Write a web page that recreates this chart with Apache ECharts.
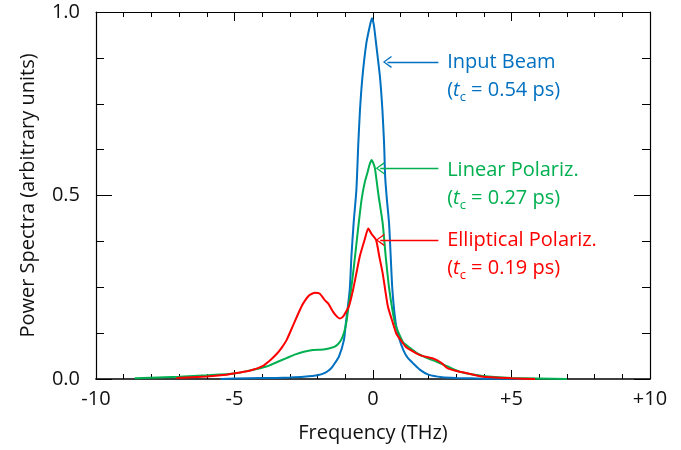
<!DOCTYPE html>
<html>
<head>
<meta charset="utf-8">
<script src="https://cdn.jsdelivr.net/npm/echarts@6/dist/echarts.min.js"></script>
<style>
html,body{margin:0;padding:0;background:#fff;}
#c{width:681px;height:450px;}
</style>
</head>
<body>
<div id="c"></div>
<script>
// ---- Data (frequency in THz, power spectra in arbitrary units) ----
const blueFreq = [-5.5,-4.5,-3.5,-3.0,-2.5,-2.0,-1.7,-1.5,-1.38,-1.23,-1.05,-0.98,-0.84,-0.78,-0.70,-0.60,-0.53,-0.47,-0.38,-0.24,-0.12,-0.04,0.03,0.11,0.25,0.34,0.40,0.44,0.50,0.58,0.64,0.70,0.82,0.95,1.1,1.25,1.43,1.7,2.0,2.5,3.0,4.0,5.5];
const bluePower = [0.0,0.002,0.003,0.004,0.006,0.010,0.018,0.030,0.043,0.061,0.106,0.152,0.243,0.333,0.424,0.515,0.642,0.733,0.824,0.915,0.960,0.983,0.965,0.915,0.824,0.733,0.642,0.55,0.49,0.424,0.333,0.243,0.152,0.110,0.078,0.058,0.044,0.025,0.012,0.005,0.003,0.001,0.0];

const greenFreq = [-8.6,-7.0,-6.0,-5.0,-4.4,-3.84,-3.5,-3.12,-2.8,-2.5,-2.17,-1.9,-1.68,-1.5,-1.38,-1.25,-1.14,-1.04,-0.96,-0.88,-0.78,-0.65,-0.53,-0.41,-0.3,-0.2,-0.12,-0.05,0.0,0.07,0.2,0.35,0.46,0.59,0.79,0.9,1.09,1.33,1.6,1.93,2.3,2.7,3.13,3.97,5.0,7.0];
const greenPower = [0.002,0.006,0.010,0.015,0.024,0.034,0.045,0.057,0.067,0.074,0.079,0.080,0.082,0.085,0.088,0.096,0.108,0.128,0.155,0.200,0.250,0.333,0.415,0.490,0.535,0.562,0.585,0.597,0.590,0.574,0.500,0.424,0.333,0.243,0.152,0.130,0.100,0.085,0.070,0.058,0.047,0.034,0.020,0.008,0.003,0.0];

const redFreq = [-7.1,-6.0,-5.4,-4.8,-4.4,-3.97,-3.7,-3.48,-3.3,-3.12,-2.88,-2.64,-2.52,-2.3,-2.1,-1.93,-1.74,-1.62,-1.44,-1.3,-1.2,-1.08,-0.96,-0.86,-0.72,-0.6,-0.48,-0.3,-0.17,-0.05,0.11,0.23,0.35,0.44,0.54,0.72,0.84,1.0,1.18,1.33,1.69,2.17,2.45,2.7,3.13,3.97,5.0,5.85];
const redPower = [0.003,0.007,0.011,0.018,0.024,0.036,0.052,0.068,0.085,0.106,0.147,0.188,0.206,0.228,0.235,0.233,0.215,0.206,0.183,0.170,0.165,0.170,0.185,0.200,0.243,0.288,0.333,0.380,0.410,0.395,0.379,0.333,0.288,0.243,0.197,0.152,0.124,0.106,0.088,0.080,0.065,0.056,0.045,0.029,0.020,0.006,0.002,0.0];

const seriesNames = ['Input Beam','Linear Polariz.','Elliptical Polariz.'];
const coherenceTimes = ['0.54','0.27','0.19'];
const xTickValues = [-10,-5,0,5,10];
const yTickValues = [0.0,0.5,1.0];
// annotation anchors (data coordinates): arrow start, arrow tip, label anchor
const arrowStart = [[2.36,0.864],[2.36,0.574],[2.36,0.379]];
const arrowTip = [[0.52,0.864],[0.26,0.574],[0.26,0.379]];
const labelAnchor = [[2.66,0.826],[2.66,0.531],[2.66,0.341]];

const colors = ['#0070C0','#00B050','#FF0000'];
const FONT = 'Open Sans';

function pairs(f,p){return f.map((x,i)=>[x,p[i]]);}
const dataSets = [pairs(blueFreq,bluePower), pairs(greenFreq,greenPower), pairs(redFreq,redPower)];

const arrowPath = 'path://M5,0 L10,7 L9.1,7.7 L5,1.7 L0.9,7.7 L0,7 Z';

function makeSeries(i){
  const col = colors[i];
  return {
    name: seriesNames[i],
    type: 'line',
    data: dataSets[i],
    showSymbol: false,
    symbol: 'none',
    smooth: 0.2,
    lineStyle: {color: col, width: 2},
    z: i===0?3:(i===1?4:5),
    silent: true,
    markLine: {
      silent: true,
      animation: false,
      symbol: ['none', arrowPath],
      symbolSize: [12, 9],
      label: {show: false},
      lineStyle: {color: col, width: 1.3, type: 'solid'},
      emphasis: {disabled: true},
      data: [[{coord: arrowStart[i]}, {coord: arrowTip[i]}]]
    },
    markPoint: {
      silent: true,
      animation: false,
      symbol: 'circle',
      symbolSize: 1,
      itemStyle: {color: 'rgba(0,0,0,0)'},
      label: {
        show: true,
        position: 'right',
        distance: 0,
        color: col,
        formatter: '{a|' + seriesNames[i] + '}\n{a|(}{i|t}{s|c}{a| = ' + coherenceTimes[i] + ' ps)}',
        rich: {
          a: {fontFamily: FONT, fontSize: 20, lineHeight: 28, color: col},
          i: {fontFamily: FONT, fontSize: 20, lineHeight: 28, fontStyle: 'italic', color: col},
          s: {fontFamily: FONT, fontSize: 13, lineHeight: 14, verticalAlign: 'bottom', color: col}
        }
      },
      data: [{coord: labelAnchor[i]}]
    }
  };
}

const chart = echarts.init(document.getElementById('c'), null, {renderer: 'canvas'});
const axisTextStyle = {fontFamily: FONT, fontSize: 20, color: '#111'};
chart.setOption({
  animation: false,
  backgroundColor: '#ffffff',
  grid: {left: 96, right: 31, top: 12, bottom: 71, containLabel: false},
  xAxis: [{
    type: 'value', min: -10, max: 10, interval: 5, position: 'bottom',
    name: 'Frequency (THz)', nameLocation: 'middle', nameGap: 44,
    nameTextStyle: {fontFamily: FONT, fontSize: 20, color: '#111'},
    axisLine: {show: true, onZero: false, lineStyle: {color: '#404040', width: 2}},
    axisTick: {show: true, inside: true, length: 9, lineStyle: {color: '#000', width: 1}},
    minorTick: {show: true, splitNumber: 5, length: 5, lineStyle: {color: '#000', width: 1}},
    splitLine: {show: false},
    axisLabel: Object.assign({margin: 10, formatter: v => xTickValues.includes(v) ? (v>0 ? '+'+v : String(v)) : ''}, axisTextStyle)
  },{
    type: 'value', min: -10, max: 10, interval: 5, position: 'top',
    axisLine: {show: true, onZero: false, lineStyle: {color: '#000', width: 1}},
    axisTick: {show: true, inside: true, length: 9, lineStyle: {color: '#000', width: 1}},
    minorTick: {show: true, splitNumber: 5, length: 5, lineStyle: {color: '#000', width: 1}},
    splitLine: {show: false},
    axisLabel: {show: false}
  }],
  yAxis: [{
    type: 'value', min: 0, max: 1, interval: 0.5, position: 'left',
    name: 'Power Spectra (arbitrary units)', nameLocation: 'middle', nameGap: 58,
    nameTextStyle: {fontFamily: FONT, fontSize: 20, color: '#111'},
    axisLine: {show: true, onZero: false, lineStyle: {color: '#000', width: 1.2}},
    axisTick: {show: true, inside: true, length: 16, lineStyle: {color: '#000', width: 1}},
    minorTick: {show: true, splitNumber: 4, length: 8, lineStyle: {color: '#000', width: 1}},
    splitLine: {show: false},
    axisLabel: Object.assign({margin: 16, formatter: v => yTickValues.includes(v) ? v.toFixed(1) : ''}, axisTextStyle)
  },{
    type: 'value', min: 0, max: 1, interval: 0.5, position: 'right',
    axisLine: {show: true, onZero: false, lineStyle: {color: '#000', width: 1.2}},
    axisTick: {show: true, inside: true, length: 16, lineStyle: {color: '#000', width: 1}},
    minorTick: {show: true, splitNumber: 4, length: 8, lineStyle: {color: '#000', width: 1}},
    splitLine: {show: false},
    axisLabel: {show: false}
  }],
  series: [makeSeries(0), makeSeries(1), makeSeries(2)]
});
</script>
</body>
</html>
